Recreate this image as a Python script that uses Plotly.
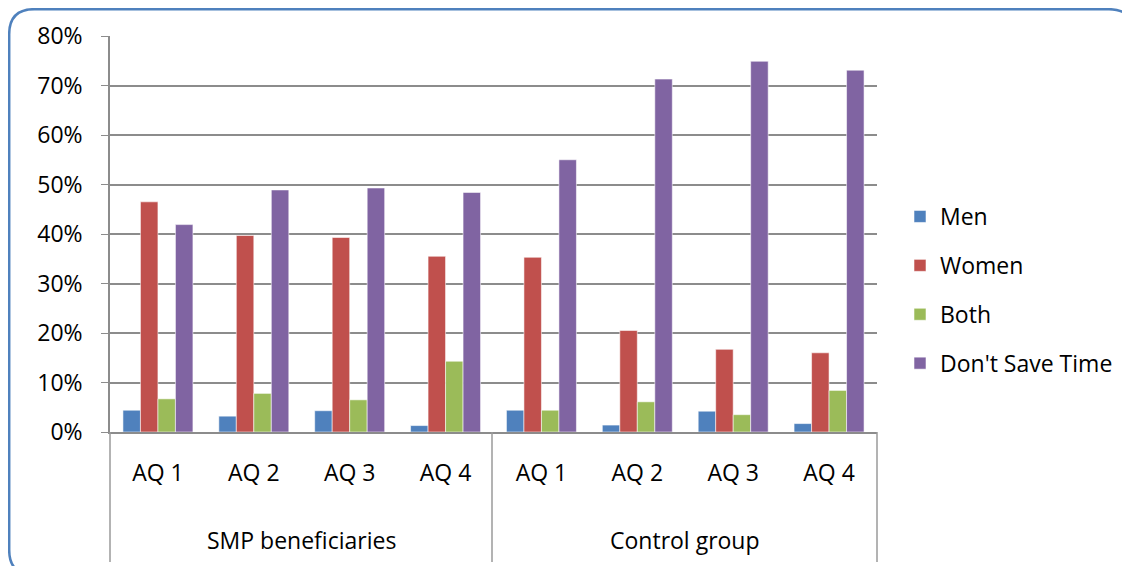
import plotly.graph_objects as go

grupos = ["SMP beneficiaries", "Control group"]
trimestres = ["AQ 1", "AQ 2", "AQ 3", "AQ 4"]

men = [0.044, 0.032, 0.043, 0.013, 0.044, 0.014, 0.042, 0.017]
women = [0.465, 0.397, 0.393, 0.355, 0.353, 0.205, 0.167, 0.160]
both = [0.067, 0.078, 0.065, 0.143, 0.044, 0.061, 0.035, 0.084]
dont_save = [0.419, 0.489, 0.493, 0.484, 0.550, 0.713, 0.749, 0.731]

series = ["Men", "Women", "Both", "Don't Save Time"]
colores = {"Men": "#4F81BD", "Women": "#C0504D", "Both": "#9BBB59", "Don't Save Time": "#8064A2"}

x_keys = [f"{g}|{q}" for g in grupos for q in trimestres]
valores = {"Men": men, "Women": women, "Both": both, "Don't Save Time": dont_save}

fig = go.Figure()
for s in series:
    fig.add_trace(go.Bar(
        x=x_keys, y=valores[s], name=s, legendgroup=s,
        marker=dict(color=colores[s], line=dict(color="rgba(255,255,255,0.55)", width=1)),
    ))

# la pagina tiene 8px de margen en el body: coordenadas de la figura = pantalla - 8
W, H = 1122, 558
L, R, T, B = 102, 869, 28, 424
def px(x): return (x - L) / (R - L)
def py(y): return (B - y) / (B - T)

shapes = []
# separadores del eje de categorias
for xp in [L, 484, R]:
    shapes.append(dict(type="line", xref="paper", yref="paper", x0=px(xp), x1=px(xp),
                       y0=0, y1=py(554), line=dict(color="#9a9a9a", width=1.5)))

# marco redondeado
x0, x1, y0, y1 = px(1.2), px(1126), py(567), py(1.2)
rx, ry = 25 / (R - L), 25 / (B - T)
path = (f"M {x0+rx},{y1} L {x1-rx},{y1} Q {x1},{y1} {x1},{y1-ry} L {x1},{y0+ry} "
        f"Q {x1},{y0} {x1-rx},{y0} L {x0+rx},{y0} Q {x0},{y0} {x0},{y0+ry} "
        f"L {x0},{y1-ry} Q {x0},{y1} {x0+rx},{y1} Z")
shapes.append(dict(type="path", xref="paper", yref="paper", path=path,
                   line=dict(color="#4F81BD", width=2.5)))

annotations = []
for i, g in enumerate(grupos):
    annotations.append(dict(text=g, xref="paper", yref="paper", x=0.25 + 0.5 * i, y=py(532),
                            xanchor="center", yanchor="middle",
                            showarrow=False, font=dict(size=23, color="black")))

fig.update_layout(
    width=W, height=H,
    margin=dict(l=L, r=W - R, t=T, b=H - B, autoexpand=False),
    paper_bgcolor="white", plot_bgcolor="white",
    font=dict(family="Open Sans", size=23, color="black"),
    barmode="group", bargap=0.27, bargroupgap=0,
    showlegend=True,
    legend=dict(x=px(892), xanchor="left", y=py(282), yanchor="middle",
                tracegroupgap=16, font=dict(size=23)),
    shapes=shapes, annotations=annotations,
    xaxis=dict(tickvals=x_keys, ticktext=trimestres * 2, ticks="", showline=True,
               linecolor="#8c8c8c", linewidth=1.5, showgrid=False, ticklabelstandoff=20),
    yaxis=dict(range=[0, 0.8], dtick=0.1, tickformat=".0%", showgrid=True, gridcolor="#8c8c8c",
               gridwidth=1.5, showline=True, linecolor="#8c8c8c", linewidth=1.5, ticks="outside",
               ticklen=7, tickcolor="#8c8c8c", zeroline=False, ticklabelstandoff=14),
)

fig.write_html("out.html")
